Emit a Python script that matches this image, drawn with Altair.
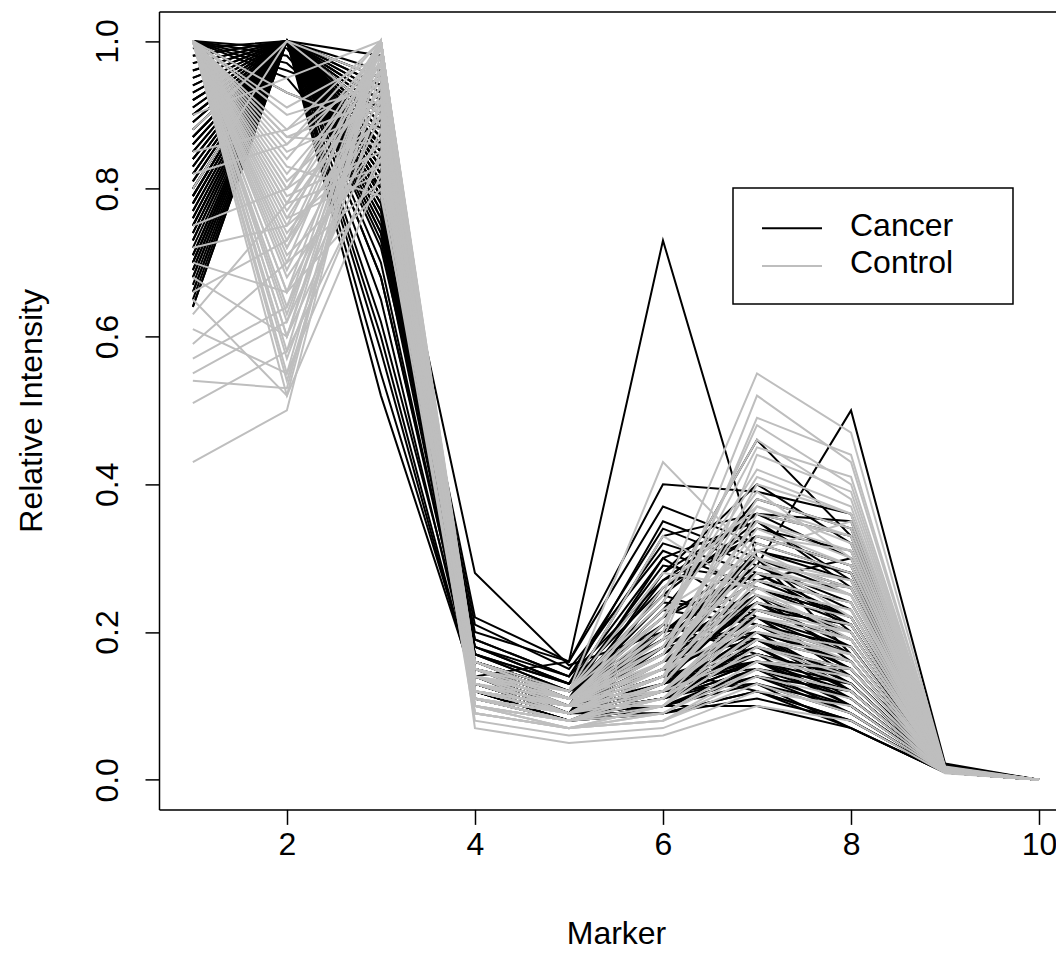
import altair as alt
import pandas as pd

FONT = "Liberation Sans, Arial, Helvetica, sans-serif"
FS = 32

markers = [1, 2, 3, 4, 5, 6, 7, 8, 9, 10]
x_ticks = [2, 4, 6, 8, 10]
y_ticks = [0.0, 0.2, 0.4, 0.6, 0.8, 1.0]
groups = ["Cancer", "Control"]
group_colors = ["#000000", "#BEBEBE"]

cancer_rows = [
    [0.64, 1.00, 0.86, 0.14, 0.10, 0.18, 0.25, 0.16, 0.012, 0],
    [0.66, 1.00, 0.90, 0.13, 0.09, 0.12, 0.20, 0.12, 0.010, 0],
    [0.68, 1.00, 0.82, 0.16, 0.11, 0.22, 0.30, 0.20, 0.015, 0],
    [0.70, 1.00, 0.88, 0.12, 0.08, 0.10, 0.15, 0.09, 0.010, 0],
    [0.72, 1.00, 0.78, 0.15, 0.12, 0.25, 0.35, 0.26, 0.018, 0],
    [0.71, 1.00, 0.86, 0.18, 0.13, 0.30, 0.22, 0.14, 0.012, 0],
    [0.74, 1.00, 0.85, 0.14, 0.10, 0.15, 0.24, 0.18, 0.014, 0],
    [0.75, 1.00, 0.80, 0.20, 0.16, 0.40, 0.39, 0.36, 0.020, 0],
    [0.76, 1.00, 0.95, 0.13, 0.09, 0.11, 0.17, 0.10, 0.011, 0],
    [0.77, 1.00, 0.70, 0.12, 0.08, 0.13, 0.19, 0.13, 0.012, 0],
    [0.78, 1.00, 0.84, 0.16, 0.12, 0.20, 0.28, 0.22, 0.016, 0],
    [0.79, 1.00, 0.90, 0.14, 0.16, 0.73, 0.30, 0.17, 0.013, 0],
    [0.80, 1.00, 0.87, 0.28, 0.155, 0.20, 0.22, 0.15, 0.013, 0],
    [0.81, 1.00, 0.76, 0.13, 0.09, 0.09, 0.12, 0.08, 0.010, 0],
    [0.82, 1.00, 0.92, 0.15, 0.11, 0.17, 0.26, 0.21, 0.015, 0],
    [0.83, 1.00, 0.81, 0.17, 0.12, 0.33, 0.36, 0.30, 0.018, 0],
    [0.84, 1.00, 0.89, 0.12, 0.09, 0.14, 0.18, 0.11, 0.011, 0],
    [0.85, 1.00, 0.74, 0.14, 0.10, 0.12, 0.16, 0.10, 0.012, 0],
    [0.86, 1.00, 0.84, 0.22, 0.16, 0.37, 0.32, 0.28, 0.016, 0],
    [0.87, 1.00, 0.83, 0.13, 0.10, 0.16, 0.23, 0.19, 0.014, 0],
    [0.88, 1.00, 0.79, 0.11, 0.08, 0.10, 0.14, 0.09, 0.010, 0],
    [0.89, 1.00, 0.91, 0.16, 0.11, 0.24, 0.46, 0.33, 0.017, 0],
    [0.90, 1.00, 0.86, 0.14, 0.09, 0.13, 0.21, 0.15, 0.013, 0],
    [0.91, 1.00, 0.65, 0.12, 0.09, 0.11, 0.15, 0.12, 0.011, 0],
    [0.92, 1.00, 0.88, 0.15, 0.12, 0.29, 0.27, 0.24, 0.016, 0],
    [0.93, 1.00, 0.80, 0.19, 0.14, 0.27, 0.36, 0.35, 0.019, 0],
    [0.94, 1.00, 0.94, 0.13, 0.10, 0.15, 0.20, 0.13, 0.012, 0],
    [0.95, 1.00, 0.84, 0.12, 0.08, 0.12, 0.13, 0.07, 0.010, 0],
    [0.96, 1.00, 0.77, 0.14, 0.11, 0.19, 0.29, 0.23, 0.015, 0],
    [0.97, 1.00, 0.90, 0.17, 0.13, 0.21, 0.17, 0.14, 0.013, 0],
    [1.00, 0.97, 0.86, 0.13, 0.10, 0.13, 0.25, 0.19, 0.014, 0],
    [1.00, 0.95, 0.80, 0.15, 0.11, 0.18, 0.31, 0.27, 0.016, 0],
    [1.00, 0.93, 0.88, 0.14, 0.09, 0.10, 0.14, 0.10, 0.011, 0],
    [0.98, 1.00, 0.58, 0.12, 0.09, 0.12, 0.18, 0.12, 0.012, 0],
    [0.88, 1.00, 0.52, 0.13, 0.10, 0.14, 0.16, 0.11, 0.011, 0],
    [0.82, 1.00, 0.62, 0.14, 0.10, 0.16, 0.22, 0.17, 0.013, 0],
    [0.76, 1.00, 0.82, 0.21, 0.15, 0.31, 0.26, 0.22, 0.015, 0],
    [0.70, 1.00, 0.98, 0.12, 0.09, 0.26, 0.33, 0.29, 0.017, 0],
    [0.67, 1.00, 0.83, 0.15, 0.11, 0.23, 0.21, 0.18, 0.014, 0],
    [0.80, 1.00, 0.75, 0.13, 0.09, 0.11, 0.15, 0.13, 0.012, 0],
    [0.73, 1.00, 0.89, 0.12, 0.09, 0.10, 0.19, 0.16, 0.013, 0],
    [0.90, 1.00, 0.72, 0.18, 0.13, 0.35, 0.30, 0.25, 0.016, 0],
    [0.94, 1.00, 0.87, 0.14, 0.10, 0.20, 0.29, 0.50, 0.022, 0],
    [0.85, 1.00, 0.81, 0.16, 0.11, 0.17, 0.24, 0.20, 0.015, 0],
    [0.78, 1.00, 0.91, 0.13, 0.10, 0.14, 0.17, 0.14, 0.012, 0],
    [0.69, 1.00, 0.85, 0.14, 0.09, 0.12, 0.13, 0.09, 0.011, 0],
    [0.99, 1.00, 0.79, 0.15, 0.12, 0.22, 0.28, 0.26, 0.017, 0],
    [0.87, 1.00, 0.93, 0.12, 0.08, 0.09, 0.11, 0.08, 0.010, 0],
    [0.75, 1.00, 0.82, 0.17, 0.12, 0.28, 0.40, 0.32, 0.018, 0],
    [0.92, 1.00, 0.68, 0.13, 0.10, 0.15, 0.12, 0.07, 0.010, 0],
    [0.65, 1.00, 0.77, 0.12, 0.09, 0.13, 0.16, 0.15, 0.012, 0],
    [0.83, 1.00, 0.96, 0.12, 0.09, 0.18, 0.20, 0.16, 0.013, 0],
    [1.00, 0.98, 0.84, 0.16, 0.12, 0.24, 0.23, 0.21, 0.015, 0],
    [0.79, 1.00, 0.88, 0.11, 0.08, 0.10, 0.10, 0.07, 0.010, 0],
    [0.96, 1.00, 0.86, 0.15, 0.11, 0.19, 0.27, 0.30, 0.016, 0],
    [0.66, 1.00, 0.80, 0.13, 0.09, 0.11, 0.16, 0.12, 0.011, 0],
    [0.68, 1.00, 0.87, 0.15, 0.12, 0.19, 0.27, 0.22, 0.015, 0],
    [0.71, 1.00, 0.92, 0.14, 0.10, 0.14, 0.22, 0.18, 0.013, 0],
    [0.73, 1.00, 0.76, 0.12, 0.09, 0.10, 0.13, 0.10, 0.011, 0],
    [0.74, 1.00, 0.83, 0.17, 0.13, 0.26, 0.34, 0.31, 0.017, 0],
    [0.77, 1.00, 0.89, 0.13, 0.10, 0.12, 0.18, 0.15, 0.012, 0],
    [0.79, 1.00, 0.81, 0.12, 0.09, 0.16, 0.25, 0.20, 0.014, 0],
    [0.80, 1.00, 0.94, 0.12, 0.09, 0.21, 0.19, 0.12, 0.012, 0],
    [0.82, 1.00, 0.86, 0.14, 0.11, 0.30, 0.35, 0.27, 0.016, 0],
    [0.84, 1.00, 0.78, 0.13, 0.09, 0.12, 0.21, 0.17, 0.013, 0],
    [0.86, 1.00, 0.90, 0.15, 0.10, 0.14, 0.15, 0.11, 0.011, 0],
    [0.87, 1.00, 0.73, 0.12, 0.10, 0.17, 0.26, 0.22, 0.014, 0],
    [0.89, 1.00, 0.85, 0.18, 0.14, 0.32, 0.28, 0.21, 0.015, 0],
    [0.90, 1.00, 0.92, 0.13, 0.09, 0.11, 0.14, 0.12, 0.011, 0],
    [0.91, 1.00, 0.81, 0.14, 0.11, 0.23, 0.38, 0.34, 0.018, 0],
    [0.93, 1.00, 0.88, 0.12, 0.09, 0.13, 0.19, 0.14, 0.012, 0],
    [0.95, 1.00, 0.79, 0.16, 0.12, 0.18, 0.24, 0.17, 0.013, 0],
    [0.97, 1.00, 0.86, 0.14, 0.10, 0.15, 0.31, 0.28, 0.016, 0],
    [1.00, 0.96, 0.91, 0.13, 0.10, 0.12, 0.20, 0.16, 0.012, 0],
    [1.00, 0.99, 0.83, 0.15, 0.11, 0.27, 0.33, 0.29, 0.016, 0],
    [0.70, 1.00, 0.60, 0.12, 0.09, 0.13, 0.17, 0.14, 0.012, 0],
    [0.86, 1.00, 0.55, 0.13, 0.10, 0.12, 0.23, 0.19, 0.013, 0],
    [0.78, 1.00, 0.68, 0.14, 0.10, 0.16, 0.19, 0.13, 0.012, 0],
    [0.64, 1.00, 0.74, 0.13, 0.09, 0.14, 0.24, 0.21, 0.014, 0],
    [0.81, 1.00, 0.85, 0.19, 0.14, 0.34, 0.29, 0.24, 0.015, 0],
    [0.75, 1.00, 0.87, 0.11, 0.08, 0.09, 0.12, 0.08, 0.010, 0],
    [0.92, 1.00, 0.95, 0.12, 0.09, 0.20, 0.30, 0.26, 0.015, 0],
    [0.69, 1.00, 0.90, 0.16, 0.12, 0.25, 0.21, 0.15, 0.013, 0],
    [0.98, 1.00, 0.82, 0.12, 0.09, 0.11, 0.16, 0.13, 0.011, 0],
    [0.84, 1.00, 0.93, 0.14, 0.10, 0.28, 0.36, 0.33, 0.017, 0],
]

control_rows = [
    [1.00, 0.52, 0.82, 0.10, 0.07, 0.10, 0.18, 0.14, 0.010, 0],
    [1.00, 0.55, 0.85, 0.12, 0.09, 0.14, 0.25, 0.22, 0.012, 0],
    [1.00, 0.60, 0.88, 0.13, 0.10, 0.18, 0.35, 0.30, 0.015, 0],
    [1.00, 0.62, 0.90, 0.11, 0.08, 0.12, 0.21, 0.17, 0.011, 0],
    [1.00, 0.66, 0.80, 0.09, 0.07, 0.09, 0.15, 0.12, 0.010, 0],
    [1.00, 0.71, 0.84, 0.14, 0.11, 0.22, 0.42, 0.37, 0.016, 0],
    [1.00, 0.73, 0.92, 0.12, 0.09, 0.16, 0.30, 0.26, 0.013, 0],
    [1.00, 0.75, 0.86, 0.10, 0.08, 0.11, 0.19, 0.16, 0.011, 0],
    [1.00, 0.77, 0.95, 0.15, 0.12, 0.25, 0.55, 0.47, 0.018, 0],
    [1.00, 0.78, 0.83, 0.13, 0.10, 0.20, 0.52, 0.43, 0.017, 0],
    [1.00, 0.80, 0.89, 0.11, 0.09, 0.13, 0.27, 0.24, 0.013, 0],
    [1.00, 0.82, 0.97, 0.16, 0.12, 0.43, 0.30, 0.22, 0.014, 0],
    [1.00, 0.85, 0.91, 0.12, 0.10, 0.19, 0.49, 0.44, 0.016, 0],
    [1.00, 0.87, 0.86, 0.14, 0.11, 0.17, 0.40, 0.36, 0.015, 0],
    [1.00, 0.90, 0.94, 0.10, 0.08, 0.10, 0.22, 0.20, 0.012, 0],
    [1.00, 0.93, 0.88, 0.13, 0.09, 0.15, 0.33, 0.31, 0.014, 0],
    [1.00, 0.72, 0.99, 0.15, 0.11, 0.21, 0.45, 0.41, 0.016, 0],
    [1.00, 0.58, 0.84, 0.08, 0.06, 0.07, 0.12, 0.10, 0.010, 0],
    [1.00, 0.68, 0.87, 0.12, 0.10, 0.14, 0.36, 0.33, 0.014, 0],
    [1.00, 0.83, 0.79, 0.15, 0.12, 0.28, 0.26, 0.19, 0.013, 0],
    [0.43, 0.50, 1.00, 0.11, 0.09, 0.13, 0.28, 0.25, 0.013, 0],
    [0.51, 0.58, 1.00, 0.07, 0.05, 0.06, 0.10, 0.08, 0.009, 0],
    [0.54, 0.53, 1.00, 0.10, 0.08, 0.12, 0.24, 0.21, 0.012, 0],
    [0.55, 0.62, 1.00, 0.12, 0.09, 0.16, 0.32, 0.28, 0.014, 0],
    [0.59, 0.70, 1.00, 0.09, 0.07, 0.10, 0.20, 0.18, 0.011, 0],
    [0.61, 0.55, 1.00, 0.13, 0.10, 0.18, 0.38, 0.34, 0.015, 0],
    [0.66, 0.73, 1.00, 0.11, 0.08, 0.11, 0.23, 0.19, 0.012, 0],
    [0.70, 0.66, 1.00, 0.14, 0.11, 0.20, 0.48, 0.40, 0.016, 0],
    [0.75, 0.80, 1.00, 0.15, 0.10, 0.14, 0.29, 0.27, 0.013, 0],
    [0.85, 0.88, 1.00, 0.14, 0.09, 0.12, 0.17, 0.13, 0.011, 0],
    [0.90, 0.95, 1.00, 0.13, 0.10, 0.17, 0.34, 0.29, 0.014, 0],
    [0.80, 1.00, 0.95, 0.11, 0.09, 0.15, 0.26, 0.23, 0.013, 0],
    [0.88, 1.00, 0.90, 0.14, 0.11, 0.23, 0.31, 0.25, 0.015, 0],
    [1.00, 0.76, 0.82, 0.09, 0.07, 0.08, 0.14, 0.11, 0.010, 0],
    [1.00, 0.64, 0.93, 0.13, 0.10, 0.26, 0.37, 0.32, 0.015, 0],
    [1.00, 0.79, 0.85, 0.11, 0.08, 0.13, 0.44, 0.39, 0.016, 0],
    [0.68, 0.60, 1.00, 0.12, 0.10, 0.15, 0.21, 0.16, 0.012, 0],
    [1.00, 0.86, 0.97, 0.10, 0.08, 0.09, 0.16, 0.15, 0.011, 0],
    [1.00, 0.70, 0.81, 0.14, 0.12, 0.33, 0.25, 0.20, 0.013, 0],
    [0.63, 0.78, 1.00, 0.10, 0.07, 0.08, 0.13, 0.09, 0.010, 0],
    [1.00, 0.54, 0.96, 0.14, 0.10, 0.12, 0.24, 0.21, 0.012, 0],
    [1.00, 0.57, 0.92, 0.13, 0.10, 0.16, 0.33, 0.29, 0.014, 0],
    [1.00, 0.63, 0.98, 0.13, 0.09, 0.11, 0.19, 0.17, 0.011, 0],
    [1.00, 0.69, 0.94, 0.12, 0.09, 0.14, 0.28, 0.26, 0.013, 0],
    [1.00, 0.74, 0.90, 0.14, 0.11, 0.18, 0.37, 0.33, 0.015, 0],
    [1.00, 0.78, 0.97, 0.09, 0.07, 0.09, 0.16, 0.14, 0.010, 0],
    [1.00, 0.81, 0.93, 0.12, 0.10, 0.21, 0.41, 0.36, 0.016, 0],
    [1.00, 0.84, 0.99, 0.16, 0.11, 0.12, 0.22, 0.19, 0.012, 0],
    [1.00, 0.88, 0.95, 0.15, 0.11, 0.15, 0.30, 0.27, 0.014, 0],
    [1.00, 0.91, 0.98, 0.14, 0.10, 0.10, 0.18, 0.15, 0.011, 0],
    [1.00, 0.76, 0.96, 0.14, 0.12, 0.24, 0.46, 0.38, 0.016, 0],
    [1.00, 0.66, 0.91, 0.11, 0.09, 0.13, 0.26, 0.23, 0.013, 0],
    [0.57, 0.64, 1.00, 0.12, 0.09, 0.14, 0.29, 0.25, 0.013, 0],
    [0.65, 0.52, 1.00, 0.10, 0.08, 0.11, 0.20, 0.17, 0.011, 0],
    [0.72, 0.75, 1.00, 0.13, 0.10, 0.17, 0.35, 0.31, 0.015, 0],
    [0.82, 0.86, 1.00, 0.11, 0.08, 0.12, 0.23, 0.20, 0.012, 0],
    [1.00, 0.80, 0.98, 0.16, 0.11, 0.16, 0.31, 0.35, 0.015, 0],
    [1.00, 0.72, 0.94, 0.10, 0.07, 0.08, 0.15, 0.12, 0.010, 0],
    [1.00, 0.60, 0.97, 0.13, 0.11, 0.19, 0.27, 0.24, 0.014, 0],
    [1.00, 0.87, 0.92, 0.15, 0.12, 0.22, 0.39, 0.30, 0.015, 0],
]

# Cancer samples drawn first, Control samples drawn over them
records = []
k = 0
for grp, rows in (("Cancer", cancer_rows), ("Control", control_rows)):
    for row in rows:
        k += 1
        sid = f"s{k:03d}"
        for m, v in zip(markers, row):
            records.append({"id": sid, "group": grp, "marker": m, "value": v})
df = pd.DataFrame(records)

xscale = alt.Scale(domain=[0.64, 10.18], nice=False, zero=False)
yscale = alt.Scale(domain=[-0.04, 1.04], nice=False, zero=False)

lines = alt.Chart(df).mark_line(strokeWidth=2.0).encode(
    x=alt.X("marker:Q", scale=xscale,
            axis=alt.Axis(values=x_ticks, format="d", grid=False, tickSize=15,
                          tickWidth=1.5, domainWidth=1.5, tickColor="black",
                          domainColor="black", labelColor="black", labelFontSize=FS,
                          labelFont=FONT, labelBaseline="alphabetic", labelPadding=30,
                          labelFlush=False, labelOverlap=False,
                          title="Marker", titleFont=FONT, titleFontSize=FS,
                          titleFontWeight="normal", titleColor="black",
                          titleX=457, titleY=134, titleBaseline="alphabetic",
                          titleAlign="center")),
    y=alt.Y("value:Q", scale=yscale,
            axis=alt.Axis(values=y_ticks, format=".1f", grid=False, tickSize=14,
                          tickWidth=1.5, domainWidth=1.5, tickColor="black",
                          domainColor="black", labelColor="black", labelFontSize=FS,
                          labelFont=FONT, labelAngle=270, labelAlign="center",
                          labelBaseline="alphabetic", labelPadding=28,
                          labelFlush=False, labelOverlap=False,
                          title="Relative Intensity", titleFont=FONT, titleFontSize=FS,
                          titleFontWeight="normal", titleColor="black",
                          titleAngle=270, titleX=-117.5, titleY=399,
                          titleBaseline="alphabetic", titleAlign="center")),
    color=alt.Color("group:N", scale=alt.Scale(domain=groups, range=group_colors), legend=None),
    detail="id:N",
    order="marker:Q",
)

top_axis = alt.Chart(pd.DataFrame({"marker": [5]})).mark_point(opacity=0).encode(
    x=alt.X("marker:Q", scale=xscale,
            axis=alt.Axis(orient="top", labels=False, ticks=False, grid=False, title=None,
                          domainColor="black", domainWidth=1.5)),
)

one = pd.DataFrame({"k": [0]})
legend_box = alt.Chart(one).mark_rect(fill="white", stroke="black", strokeWidth=1.5).encode(
    x=alt.value(574), x2=alt.value(854), y=alt.value(176.6), y2=alt.value(292.6)
)
legend_l1 = alt.Chart(one).mark_rule(color=group_colors[0], strokeWidth=2.0).encode(
    x=alt.value(603), x2=alt.value(663), y=alt.value(216.9)
)
legend_l2 = alt.Chart(one).mark_rule(color=group_colors[1], strokeWidth=2.0).encode(
    x=alt.value(603), x2=alt.value(663), y=alt.value(254.6)
)
legend_t1 = alt.Chart(one).mark_text(align="left", baseline="alphabetic", fontSize=FS,
                                     font=FONT, color="black").encode(
    x=alt.value(691), y=alt.value(225.1), text=alt.value(groups[0])
)
legend_t2 = alt.Chart(one).mark_text(align="left", baseline="alphabetic", fontSize=FS,
                                     font=FONT, color="black").encode(
    x=alt.value(691), y=alt.value(261.6), text=alt.value(groups[1])
)

chart = alt.layer(
    lines, top_axis, legend_box, legend_l1, legend_l2, legend_t1, legend_t2
).resolve_axis(x="independent").properties(
    width=897, height=798,
    autosize=alt.AutoSizeParams(type="none"),
    padding={"left": 151, "top": 3.4, "right": 0, "bottom": 142},
).configure_view(stroke=None).configure(background="white")

chart.save("out.html", embed_options={"renderer": "svg", "actions": False})
